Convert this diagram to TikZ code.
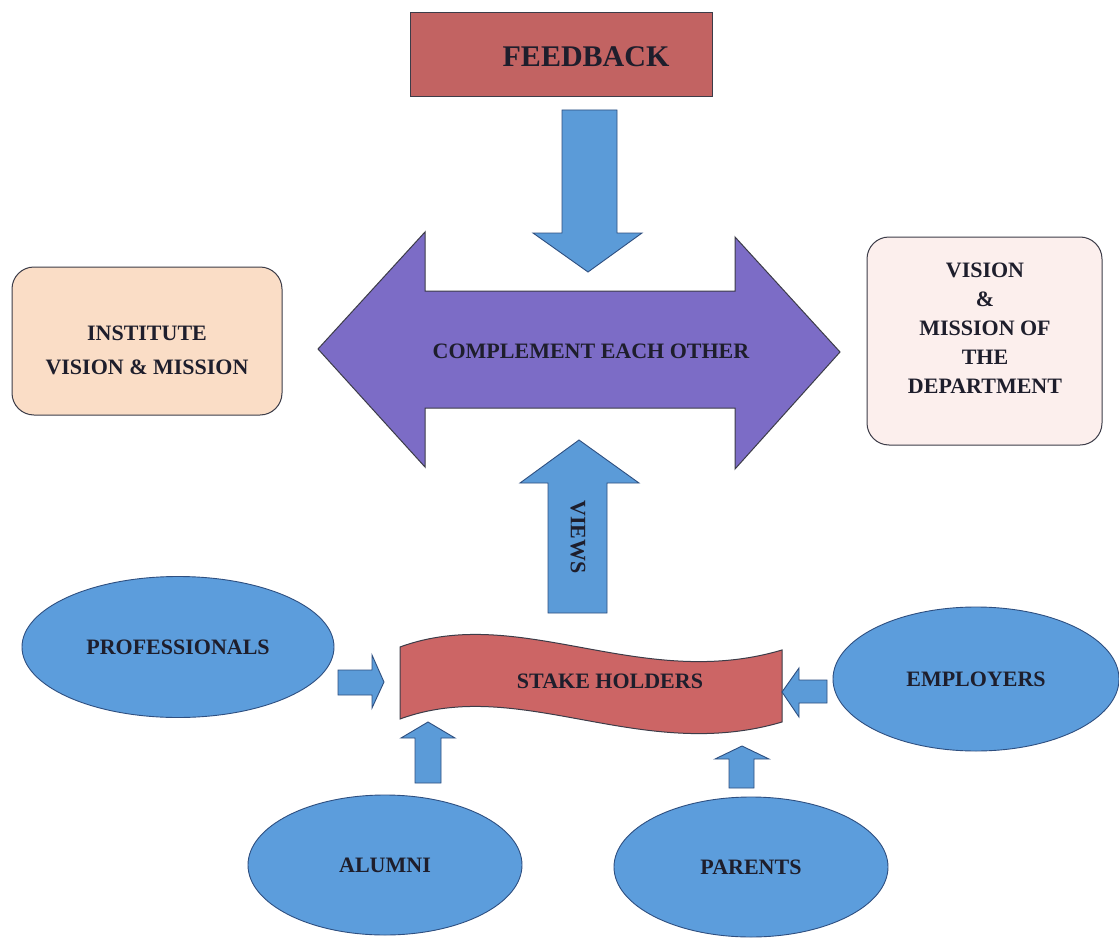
\documentclass[tikz,border=0pt]{standalone}
\usepackage{fontspec}
\setmainfont{Liberation Serif}
\usetikzlibrary{shapes.geometric}
\definecolor{fbred}{HTML}{C26362}
\definecolor{shred}{HTML}{CC6565}
\definecolor{purp}{HTML}{7C6CC6}
\definecolor{arrblue}{HTML}{5B9BD8}
\definecolor{ellblue}{HTML}{5C9DDC}
\definecolor{peach}{HTML}{FADDC6}
\definecolor{pinkw}{HTML}{FCEFED}
\definecolor{txt}{HTML}{1E1E2C}
\definecolor{edge}{HTML}{3C3C48}
\definecolor{bedge}{HTML}{2E4F80}
\begin{document}
\begin{tikzpicture}[x=1pt,y=-1pt,
  lbl/.style={font=\bfseries\fontsize{22}{29}\selectfont, text=txt, align=center},
  blockarr/.style={fill=arrblue, draw=bedge, line width=0.9pt, line join=miter},
  oval/.style={ellipse, fill=ellblue, draw=bedge, line width=0.9pt, inner sep=0pt},
  rbox/.style={draw=edge, line width=1pt, rounded corners=22pt}]
\useasboundingbox[fill=white] (0,0) rectangle (1119,939);

% FEEDBACK
\node[fill=fbred, draw=edge, line width=1pt, minimum width=302pt, minimum height=84pt] (fb) at (561,55) {};
\node[font=\bfseries\fontsize{30}{34}\selectfont, text=txt] (fbt) at (586,57) {FEEDBACK};

% down arrow
\path[blockarr] (562,110) -- (617,110) -- (617,233) -- (642,233) -- (588,272)
  -- (533,233) -- (562,233) -- cycle;

% double arrow
\path[fill=purp, draw=edge, line width=1pt, line join=miter]
  (318,349) -- (425,232) -- (425,291) -- (735,291) -- (735,237) -- (840,352)
  -- (735,469) -- (735,408) -- (425,408) -- (425,467) -- cycle;
\node[lbl] (comp) at (591,351) {COMPLEMENT EACH OTHER};

% side boxes
\filldraw[rbox, fill=peach] (12,267) rectangle (282,415);
\node[lbl] (inst) at (147,350) {INSTITUTE\\[5pt]VISION \& MISSION};
\filldraw[rbox, fill=pinkw] (867,237) rectangle (1102,445);
\node[lbl] (dept) at (985,328) {VISION\\\&\\MISSION OF\\THE\\DEPARTMENT};

% views arrow
\path[blockarr] (548,613) -- (548,483) -- (520,483) -- (579,440) -- (639,483)
  -- (607,483) -- (607,613) -- cycle;
\node[lbl, rotate=-90] (views) at (578,537) {VIEWS};

% stake holders banner
\path[fill=shred, draw=edge, line width=1pt]
  (400,647) .. controls (520,603) and (640,692) .. (782,650)
  -- (782,722) .. controls (640,764) and (520,675) .. (400,719) -- cycle;
\node[lbl] (sh) at (610,681) {STAKE HOLDERS};

% ellipses
\node[oval, minimum width=312pt, minimum height=141pt, lbl] (prof) at (178,647) {PROFESSIONALS};
\node[oval, minimum width=286pt, minimum height=144pt, lbl] (emp) at (976,679) {EMPLOYERS};
\node[oval, minimum width=274pt, minimum height=140pt, lbl] (alum) at (385,865) {ALUMNI};
\node[oval, minimum width=274pt, minimum height=140pt, lbl] (par) at (751,867) {PARENTS};

% small arrows
\path[blockarr] (338,670) -- (372,670) -- (372,655) -- (384,682) -- (372,708)
  -- (372,695) -- (338,695) -- cycle;
\path[blockarr] (827,680) -- (799,680) -- (799,668) -- (782,692) -- (799,717)
  -- (799,703) -- (827,703) -- cycle;
\path[blockarr] (415,783) -- (415,738) -- (401,738) -- (428,722) -- (455,738)
  -- (441,738) -- (441,783) -- cycle;
\path[blockarr] (729,788) -- (729,759) -- (715,759) -- (742,746) -- (769,759)
  -- (754,759) -- (754,788) -- cycle;
\end{tikzpicture}
\end{document}
